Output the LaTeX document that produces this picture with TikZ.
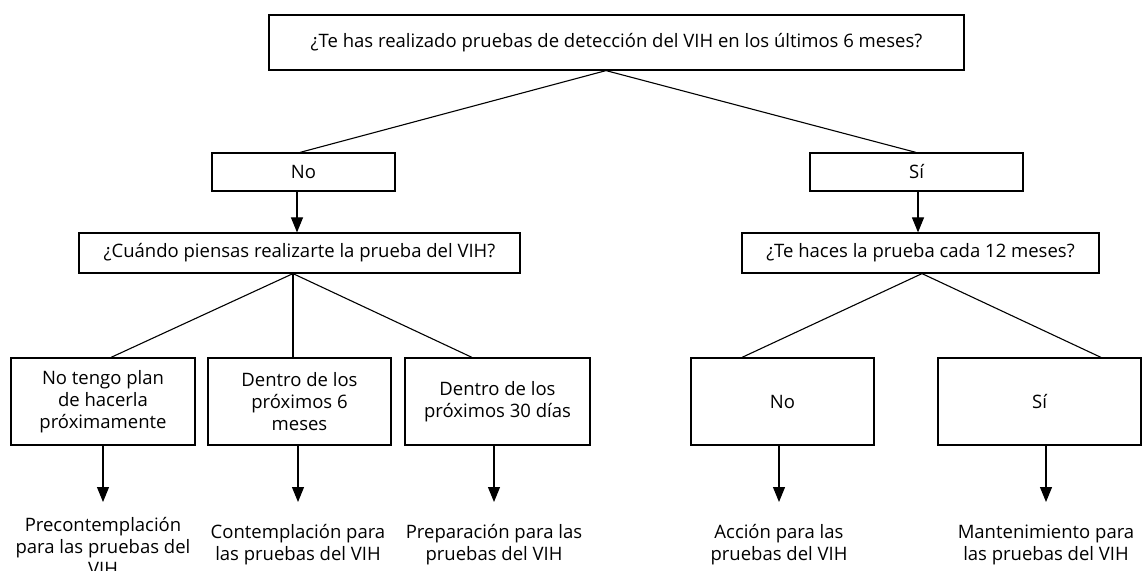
\documentclass[tikz,border=0pt]{standalone}
\usepackage{fontspec}
\setmainfont{Open Sans}
\usetikzlibrary{arrows.meta}
\newcommand{\fs}{\fontsize{18.5}{22}\selectfont}
\begin{document}
\begin{tikzpicture}[x=1pt,y=-1pt,
  box/.style={draw,line width=1.2pt,inner sep=0pt,font=\fs,align=center},
  lbl/.style={font=\fs,align=center,inner sep=0pt},
  conn/.style={line width=1.1pt},
  arr/.style={line width=1.1pt,-{Triangle[length=15pt,width=12pt]}}]
\useasboundingbox (0,0) rectangle (1142,570);
% boxes
\node[box,minimum width=695pt,minimum height=55pt] (top) at (616.5,42.5) {¿Te has realizado pruebas de detección del VIH en los últimos 6 meses?};
\node[box,minimum width=183pt,minimum height=38pt] (no) at (303.5,172) {No};
\node[box,minimum width=213pt,minimum height=38pt] (si) at (916.5,172) {Sí};
\node[box,minimum width=441pt,minimum height=40pt] (cuando) at (299.5,253) {¿Cuándo piensas realizarte la prueba del VIH?};
\node[box,minimum width=357pt,minimum height=40pt] (haces) at (920.5,253) {¿Te haces la prueba cada 12 meses?};
\node[box,minimum width=184pt,minimum height=87pt] (b1) at (103,401.5) {No tengo plan\\de hacerla\\próximamente};
\node[box,minimum width=183pt,minimum height=87pt] (b2) at (299.5,401.5) {Dentro de los\\próximos 6\\meses};
\node[box,minimum width=185pt,minimum height=87pt] (b3) at (497.5,401.5) {Dentro de los\\próximos 30 días};
\node[box,minimum width=183pt,minimum height=87pt] (b4) at (782.5,401.5) {No};
\node[box,minimum width=203pt,minimum height=87pt] (b5) at (1039.5,401.5) {Sí};
% labels
\node[lbl] (l1) at (103,546) {Precontemplación\\para las pruebas del\\VIH};
\node[lbl] (l2) at (298,545) {Contemplación para\\las pruebas del VIH};
\node[lbl] (l3) at (494,545) {Preparación para las\\pruebas del VIH};
\node[lbl] (l4) at (779,545) {Acción para las\\pruebas del VIH};
\node[lbl] (l5) at (1046,545) {Mantenimiento para\\las pruebas del VIH};
% helper coordinates
\coordinate (x0) at (606,0);
\coordinate (xno) at (300,0);
\coordinate (xsi) at (916,0);
\coordinate (xa1) at (297,0);
\coordinate (xa2) at (918,0);
\coordinate (xc) at (293,0);
\coordinate (xb1) at (111,0);
\coordinate (xb3) at (472,0);
\coordinate (xh) at (922,0);
\coordinate (xb4) at (742,0);
\coordinate (xb5) at (1101,0);
\coordinate (t1) at (103,502);
\coordinate (t2) at (298,502);
\coordinate (t3) at (494,502);
\coordinate (t4) at (779,502);
\coordinate (t5) at (1046,502);
% connectors
\draw[conn] (top.south -| x0) -- (no.north -| xno);
\draw[conn] (top.south -| x0) -- (si.north -| xsi);
\draw[arr] (no.south -| xa1) -- (cuando.north -| xa1);
\draw[arr] (si.south -| xa2) -- (haces.north -| xa2);
\draw[conn] (cuando.south -| xc) -- (b1.north -| xb1);
\draw[conn] (cuando.south -| xc) -- (b2.north -| xc);
\draw[conn] (cuando.south -| xc) -- (b3.north -| xb3);
\draw[conn] (haces.south -| xh) -- (b4.north -| xb4);
\draw[conn] (haces.south -| xh) -- (b5.north -| xb5);
\draw[arr] (b1.south -| t1) -- (t1);
\draw[arr] (b2.south -| t2) -- (t2);
\draw[arr] (b3.south -| t3) -- (t3);
\draw[arr] (b4.south -| t4) -- (t4);
\draw[arr] (b5.south -| t5) -- (t5);
\end{tikzpicture}
\end{document}
